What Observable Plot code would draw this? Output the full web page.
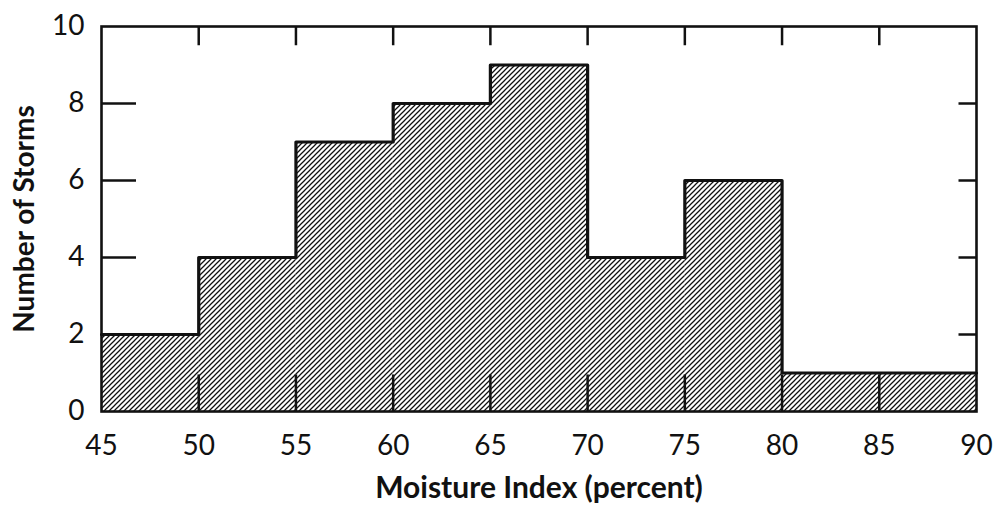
<!DOCTYPE html>
<html><head><meta charset="utf-8">
<script src="https://cdn.jsdelivr.net/npm/d3@7"></script>
<script src="https://cdn.jsdelivr.net/npm/@observablehq/plot@0.6"></script>
<style>
body{margin:0;background:#fff}
#chart svg{font-family: Lato, "DejaVu Sans", sans-serif; color:#111}
</style>
</head><body><div id="chart"></div>
<script>
const binStart = [45, 50, 55, 60, 65, 70, 75, 80];
const binEnd   = [50, 55, 60, 65, 70, 75, 80, 90];
const storms   = [2, 4, 7, 8, 9, 4, 6, 1];
const xTicks = [45, 50, 55, 60, 65, 70, 75, 80, 85, 90];
const yTicks = [0, 2, 4, 6, 8, 10];
const xLabel = "Moisture Index (percent)";
const yLabel = "Number of Storms";

const bins = binStart.map((s, i) => ({x1: s, x2: binEnd[i], y: storms[i]}));
const outline = [...bins.map(b => ({x: b.x1, y: b.y})), {x: binEnd[binEnd.length - 1], y: storms[storms.length - 1]}];
const innerX = xTicks.slice(1, -1);
const innerY = yTicks.slice(1, -1);

function hatchDefs() {
  const defs = d3.create("svg:defs");
  const p = defs.append("pattern")
    .attr("id", "hatch").attr("patternUnits", "userSpaceOnUse")
    .attr("width", 5).attr("height", 5);
  p.append("path")
    .attr("d", "M-1,1 l2,-2 M0,5 l5,-5 M4,6 l2,-2")
    .attr("stroke", "#111").attr("stroke-width", 1.25).attr("fill", "none");
  return defs.node();
}

const chart = Plot.plot({
  width: 995, height: 511,
  marginLeft: 101, marginRight: 19, marginTop: 26, marginBottom: 100,
  x: {domain: [45, 90]},
  y: {domain: [0, 10]},
  marks: [
    hatchDefs,
    Plot.rectY(bins, {x1: "x1", x2: "x2", y: "y", fill: "url(#hatch)"}),
    Plot.line(outline, {x: "x", y: "y", curve: "step-after", stroke: "#111", strokeWidth: 3.2}),
    Plot.frame({stroke: "#111", strokeWidth: 2.6}),
    Plot.ruleX(innerX, {y1: 10, y2: 9.5, stroke: "#111", strokeWidth: 2.5}),
    Plot.ruleX(innerX, {y1: 0, y2: 0.95, stroke: "#111", strokeWidth: 2.5}),
    Plot.ruleY(innerY, {x1: 45, x2: 46.8, stroke: "#111", strokeWidth: 2.5}),
    Plot.ruleY(innerY, {x1: 89.1, x2: 90, stroke: "#111", strokeWidth: 2.5}),
    Plot.axisX(xTicks, {anchor: "bottom", tickSize: 0, tickPadding: 24, fontSize: 28, label: null}),
    Plot.axisY(yTicks, {anchor: "left", tickSize: 0, tickPadding: 17, fontSize: 28, label: null}),
    Plot.text([xLabel], {text: d => d, frameAnchor: "bottom", dy: 86, fontSize: 30, fontWeight: "bold"}),
    Plot.text([yLabel], {text: d => d, frameAnchor: "left", textAnchor: "middle", dx: -76, rotate: -90, fontSize: 28, fontWeight: "bold"})
  ]
});
document.getElementById("chart").append(chart);
</script>
</body></html>
